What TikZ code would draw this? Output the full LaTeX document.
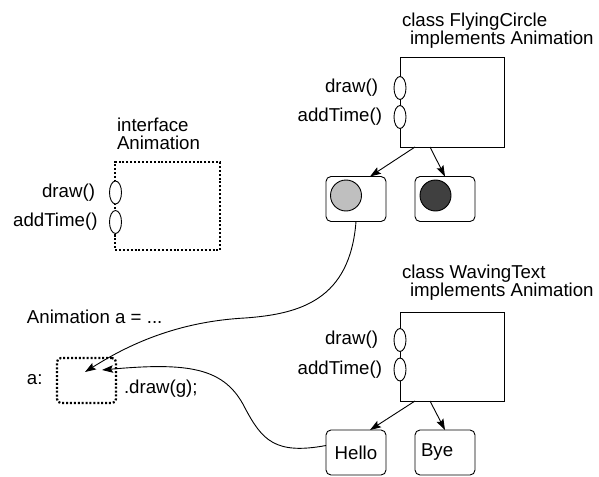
\documentclass[tikz,border=0pt]{standalone}
\usepackage{fontspec}
\setmainfont{Liberation Sans}
\usepackage{tikz}
\usetikzlibrary{positioning,arrows.meta,shapes.geometric}

\begin{document}
\begin{tikzpicture}[
  x=1pt, y=-1pt,
  >={Stealth[length=11pt,width=7.5pt,inset=2pt]},
  every node/.style={font=\fontsize{18.67}{18.5}\selectfont, inner sep=0pt, outer sep=0pt},
  cbox/.style={rectangle, draw=black, line width=0.9pt, minimum width=104pt},
  ibox/.style={rectangle, draw=black, line width=2.2pt, dash pattern=on 2pt off 1.9pt},
  oval/.style={ellipse, draw=black, line width=0.9pt, fill=white, minimum width=12pt, minimum height=23pt},
  obj/.style={rectangle, rounded corners=5pt, draw=black, line width=0.9pt, minimum width=60pt, minimum height=45pt},
  ttl/.style={anchor=north west, align=left},
  meth/.style={anchor=east},
  link/.style={->, line width=0.9pt}
]
\useasboundingbox (0,0) rectangle (599,476);

% interface
\node[ttl] (ifttl) at (117,117.5) {interface\\Animation};
\node[ibox, minimum width=105pt, minimum height=88pt] (ifbox) at (167.5,206) {};
\node[oval] (ifdraw) at (115.5,192.5) {};
\node[oval] (iftime) at (115.5,222) {};
\node[meth] (ifdrawl) at (95,192.5) {draw()};
\node[meth] (iftimel) at (97.5,222) {addTime()};

% class FlyingCircle
\node[ttl] (fcttl) at (402,12.5) {class FlyingCircle\\\hspace*{8pt}implements Animation};
\node[cbox, minimum height=90pt] (fcbox) at (452,102) {};
\node[oval] (fcdraw) at (400,88) {};
\node[oval] (fctime) at (400,117) {};
\node[meth] (fcdrawl) at (378,88) {draw()};
\node[meth] (fctimel) at (382,117) {addTime()};
\node[obj] (ball1) at (356,199) {};
\node[obj] (ball2) at (445,199) {};
\draw[line width=0.9pt, fill=black!25] (346,195.5) circle (15.5pt);
\draw[line width=0.9pt, fill=black!75] (435.5,195.5) circle (15.5pt);
\draw[link] ([xshift=15pt]fcbox.south west) -- ([xshift=-16pt]ball1.north east);
\draw[link] ([xshift=30pt]fcbox.south west) -- (ball2.north);

% class WavingText
\node[ttl] (wtttl) at (402,264.5) {class WavingText\\\hspace*{8pt}implements Animation};
\node[cbox, minimum height=89pt] (wtbox) at (452,356.5) {};
\node[oval] (wtdraw) at (400,340) {};
\node[oval] (wttime) at (400,369.5) {};
\node[meth] (wtdrawl) at (378,340) {draw()};
\node[meth] (wttimel) at (382,369.5) {addTime()};
\node[obj] (hello) at (356,452.5) {Hello};
\node[obj, text width=48pt, align=left] (bye) at (445,452.5) {Bye};
\draw[link] ([xshift=15pt]wtbox.south west) -- ([xshift=-16pt]hello.north east);
\draw[link] ([xshift=30pt]wtbox.south west) -- (bye.north);

% variable a
\node[anchor=base west] (decl) at (27,323) {Animation a = ...};
\node[anchor=base west] (alab) at (27,384) {a:};
\node[ibox, rounded corners=4pt, minimum width=59pt, minimum height=45pt] (abox) at (86.5,380.5) {};
\node[anchor=base west] (call) at (124,393) {.draw(g);};
\coordinate (tipA) at (85,372);
\coordinate (tipB) at (102,370);
\draw[link] (ball1.south) .. controls (350,300) and (300,314) .. (245,318)
  .. controls (170,322) and (120,350) .. (tipA);
\draw[link] ([yshift=7pt]hello.west) .. controls (275,455) and (262,440) .. (245,408)
  .. controls (225,368) and (190,362) .. (tipB);
\end{tikzpicture}
\end{document}
